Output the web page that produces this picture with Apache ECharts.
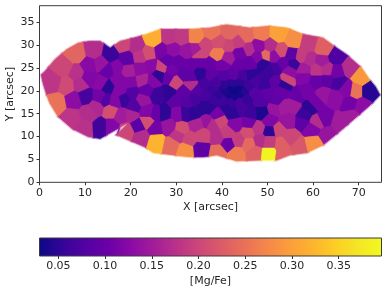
<!DOCTYPE html>
<html><head><meta charset="utf-8">
<style>html,body{margin:0;padding:0;background:#fff}#c{width:387px;height:293px}</style>
<script src="https://cdn.jsdelivr.net/npm/echarts@6/dist/echarts.min.js"></script>
</head><body><div id="c"></div>
<script>
const xTicks=[0,10,20,30,40,50,60,70];
const yTicks=[0,5,10,15,20,25,30,35];
const cbTicks=[0.05,0.10,0.15,0.20,0.25,0.30,0.35];
const vMin=0.0298, vMax=0.3958;
const plasma=['#0d0887','#350498','#5302a3','#6a00a8','#8b0aa5','#a21d9a','#b93289','#cc4778','#db5c68','#e97158','#f48849','#fb9f3a','#fdb42f','#fcce25','#f5e626','#f0f921'];
const outline=[[0.4,23.5],[0.8,21.7],[1.6,19.1],[2.3,17.3],[4.1,14.4],[7.1,11.8],[10.7,10],[13.3,9.6],[14.7,10.4],[19.9,13.3],[16.9,10.4],[19.5,9.3],[23,7.8],[25,6.5],[27,6.3],[31,5.8],[33,5.6],[35.9,5.6],[38.9,6],[43.2,4.7],[48.7,4.9],[52,4.9],[54.9,6],[58.6,6.5],[62.2,8.2],[66.6,11.8],[69.6,14.4],[72.5,16.9],[74.6,19.1],[73.6,20.9],[72.5,22.2],[70.6,25],[67.3,27.9],[65.2,29.3],[62.2,31.5],[57.8,32.3],[54.2,33.7],[50.5,34.1],[46.1,33.7],[41,34.4],[37.4,33.7],[33,33.4],[28.6,33.4],[26.5,33.4],[23.5,32.3],[20.6,31.5],[17.7,30.8],[15.5,29.3],[13.3,30.8],[11,30.8],[8.5,30.4],[6,29],[3.4,26.8],[1.2,24.2]];
const binsWest=[[3,21.7,.18],[5.6,25,.2],[8.2,27.9,.235],[12,28.6,.17],[8.2,23.9,.175],[6,21,.205],[9.1,21.3,.17],[3.9,17.3,.25],[7.6,18,.13],[10.2,18.8,.07],[10.9,25.5,.125],[10.9,22.8,.12],[13.6,26,.14],[7.1,14,.18],[10.9,15.1,.17],[12.5,16.4,.165],[10,11.8,.175],[13.5,12,.065],[13.3,18.8,.11],[13.6,21.7,.125],[15,20.8,.05],[14.6,18,.08],[15.8,15.7,.21],[15.6,27.9,.06],[15.1,24.5,.1],[17,25,.12],[18.5,30,.2],[19.3,27,.09]];
const binsNorth=[[21.3,29.7,.17],[22,27.5,.18],[24,28.2,.21],[25,31.3,.315],[28.6,31.5,.18],[31.2,31.5,.185],[34.5,31.6,.27],[26.8,28.6,.115],[29.3,29,.13],[32.3,28.6,.14],[34.4,29,.15],[24.6,25.3,.125],[27.9,26.4,.1],[22,24.6,.13],[19.5,24.2,.155],[37.8,32.6,.25],[41.8,32.6,.235],[45.4,31.9,.24],[48.7,32.3,.26],[52.4,32.3,.3],[55.7,30.8,.28],[59,30,.19],[62.2,29.1,.23],[50.5,29.7,.17],[49.6,27.6,.24],[48,29.7,.13],[45.8,29,.17],[43.6,30.4,.19],[41.4,29.7,.2],[39.2,30.4,.21],[39.2,28.1,.26],[36.3,30,.2],[35.2,28,.2],[41.4,27.2,.15],[44,28.2,.11],[47.9,27.2,.12],[51.6,27.5,.13],[53.1,28.6,.21],[53.5,26,.1],[55.3,27.9,.09],[55.8,25.7,.06],[57.5,27.5,.19],[49,25.9,.05],[51.6,24.6,.07],[37.4,25.5,.1],[35.2,26,.1],[40.3,25.3,.11],[44,25.6,.1],[33,25.3,.1],[30.4,26,.1],[26.8,25,.2]];
const binsEast=[[59.3,26.8,.17],[61.9,26.4,.15],[65.2,27.2,.075],[68,25,.17],[70.5,22.9,.29],[69.2,19.9,.25],[72.5,19.9,.045],[70.6,16.6,.13],[68,17.2,.11],[65.5,21.7,.07],[67.3,20.2,.12],[65,24.2,.11],[62.9,22.4,.09],[60.8,24.5,.18],[63,24.6,.17],[55,24.2,.13],[57.9,24.6,.15],[57.9,22.8,.12],[60.8,22,.1],[62.2,19.1,.14],[64.8,18.4,.13],[65.9,12.9,.15],[63,10.4,.14],[62.2,14,.11],[60.8,13.3,.17],[59.7,11.5,.12],[57.5,13.3,.09],[59.3,16.4,.05],[57.9,14.7,.06],[60.5,17.5,.11],[56.5,19,.1],[58.5,20,.11],[54.2,22.4,.2],[53.6,21.3,.05],[55.5,16.5,.15],[68.5,14.2,.15]];
const binsSouth=[[15.8,12,.12],[18,14.7,.15],[20.2,14.7,.16],[21.7,12.3,.085],[23.7,13.3,.21],[19,11,.2],[22.4,9.9,.17],[25.5,11.8,.11],[25.7,8.9,.32],[29,8.2,.24],[32.1,7.1,.28],[30.4,10.4,.18],[33,9.6,.2],[31.1,11.8,.21],[28.3,12.3,.14],[27.3,15.2,.05],[25.3,15.1,.1],[35.6,7.4,.09],[39.2,6.7,.245],[43.2,6.4,.26],[47.3,6.7,.23],[50.3,6.4,.39],[53,8.5,.23],[53.5,6,.23],[57.1,7.8,.22],[60,8.5,.28],[54.9,10,.2],[52.4,11.5,.2],[50.3,11.1,.05],[50.3,8.9,.19],[48.2,9.3,.17],[45.8,8.5,.24],[41.4,8.5,.1],[38.9,10,.17],[43.6,9.3,.19],[45.8,11,.21],[46,13,.11],[48,11.8,.18],[36.7,13.3,.14],[34.5,12.6,.16],[38,12.6,.17],[41.2,11,.19],[42.8,12.8,.12],[39.6,13.5,.2],[50.5,13.6,.12],[54.5,13.5,.14],[35.8,10.2,.2]];
const binsCore=[[22.6,22.2,.16],[19.8,21.7,.12],[17.3,22.4,.12],[20.2,19.5,.08],[17.6,19.9,.12],[18.5,18.2,.06],[16.5,17.7,.12],[20.8,16.7,.08],[22.8,18,.14],[23.7,15.5,.12],[26.2,23.3,.05],[28.4,22.9,.1],[25,22,.12],[28.4,19.6,.05],[25.8,19.1,.06],[23.5,20.2,.1],[31.5,23.5,.09],[31.8,20,.09],[29.9,22,.2],[30,17.8,.09],[32.5,17.5,.08],[30.5,15,.12],[33.7,15.1,.05],[31.9,15.1,.06],[35.5,16.5,.05],[37.4,16.5,.05],[40.9,16.4,.05],[42.3,15.2,.05],[39,14.9,.11],[44.5,16.3,.07],[46.5,15.2,.06],[48.7,15.4,.04],[51.6,16.2,.14],[53.5,16.6,.15],
[42.8,19.8,.03],[41.8,20.5,.032],[43.8,20.5,.033],[41.6,19,.035],[42.8,18.6,.035],[44,19.2,.035],[40.7,19.9,.04],[45,19.9,.045],[40.6,21.2,.05],[42.2,21.6,.05],[44,21.8,.05],[46,21,.06],[39.3,19,.05],[40.5,17.8,.06],[42,17.5,.06],[43.8,17.5,.07],[45.5,18.3,.055],[47,19.5,.08],[37.8,20.3,.06],[38.2,18,.06],[38.7,22,.07],[36.3,19.3,.07],[36.3,21.5,.07],[34.6,20,.08],[34.2,18,.07],[40.5,23.4,.08],[42.6,23.5,.09],[44.6,23.3,.07],[47.2,22.3,.07],[37.5,23.5,.09],[35.2,23.8,.05],[33.1,21.4,.17],
[48.5,17.8,.08],[49.6,21.3,.06],[50,19.5,.09],[52,18,.09],[53,19.8,.1],[49.8,23.1,.06],[46.5,23.5,.05],[50.5,24.2,.06],[51.5,22,.09],[46.2,26,.1],[33,23,.09],[29,24.5,.11]];
const bins=[...binsWest,...binsNorth,...binsEast,...binsSouth,...binsCore];

function colorOf(v){
  const t=Math.max(0,Math.min(1,(v-vMin)/(vMax-vMin)))*(plasma.length-1);
  const i=Math.min(plasma.length-2,Math.floor(t)),f=t-i;
  const a=parseInt(plasma[i].slice(1),16),b=parseInt(plasma[i+1].slice(1),16);
  const mix=s=>Math.round(((a>>s)&255)*(1-f)+((b>>s)&255)*f);
  return `rgb(${mix(16)},${mix(8)},${mix(0)})`;
}
function cellOf(k){
  let poly=outline;
  const [px,py]=bins[k];
  bins.forEach((o,j)=>{
    if(j===k||!poly.length)return;
    const nx=o[0]-px,ny=o[1]-py,c=nx*(px+o[0])/2+ny*(py+o[1])/2;
    const side=p=>nx*p[0]+ny*p[1]-c;
    const out=[];
    poly.forEach((p,i)=>{
      const q=poly[(i+1)%poly.length],sp=side(p),sq=side(q);
      if(sp<=0)out.push(p);
      if((sp<0&&sq>0)||(sp>0&&sq<0)){const t=sp/(sp-sq);out.push([p[0]+(q[0]-p[0])*t,p[1]+(q[1]-p[1])*t]);}
    });
    poly=out;
  });
  return poly;
}
const cells=bins.map((b,k)=>cellOf(k));
const binData=bins.map((b,k)=>[b[0],b[1],b[2],k]);
const font='"DejaVu Sans"',ink='#262626',fs=11;
function cellSeries(lineWidth,opacity,z){
  return {type:'custom',xAxisIndex:0,yAxisIndex:0,silent:true,clip:true,z,
    data:binData,encode:{x:0,y:1},
    renderItem(params,api){
      const k=api.value(3),col=colorOf(api.value(2));
      const pts=cells[k].map(p=>api.coord(p));
      return {type:'polygon',shape:{points:pts},style:{fill:col,stroke:col,lineWidth,opacity}};
    }};
}
const chart=echarts.init(document.getElementById('c'),null,{renderer:'canvas'});
chart.setOption({
  animation:false,
  grid:[
    {left:39.5,top:5.7,width:342,height:176.6,outerBoundsMode:'none',containLabel:false,show:true,borderColor:'#3c3c3c',borderWidth:1,backgroundColor:'#fff'},
    {left:39.5,top:238,width:342,height:18,outerBoundsMode:'none',containLabel:false,show:true,borderColor:'#3c3c3c',borderWidth:1,backgroundColor:'transparent',z:5}
  ],
  xAxis:[
    {gridIndex:0,type:'value',min:0,max:75,name:'X [arcsec]',nameLocation:'middle',nameGap:19,nameMoveOverlap:false,
     nameTextStyle:{fontFamily:font,fontSize:fs,color:ink},
     axisLine:{show:false},splitLine:{show:false},
     axisTick:{show:true,length:3,lineStyle:{color:'#333',width:1},customValues:xTicks},
     axisLabel:{fontFamily:font,fontSize:fs,color:ink,margin:5,customValues:xTicks,showMinLabel:true}},
    {gridIndex:1,type:'value',min:vMin,max:vMax,name:'[Mg/Fe]',nameLocation:'middle',nameGap:20,nameMoveOverlap:false,
     nameTextStyle:{fontFamily:font,fontSize:fs,color:ink},
     axisLine:{show:false},splitLine:{show:false},
     axisTick:{show:true,length:3,lineStyle:{color:'#333',width:1},customValues:cbTicks},
     axisLabel:{fontFamily:font,fontSize:fs,color:ink,margin:5,customValues:cbTicks,formatter:v=>v.toFixed(2)}}
  ],
  yAxis:[
    {gridIndex:0,type:'value',min:0,max:38.6,name:'Y [arcsec]',nameLocation:'middle',nameGap:24,nameMoveOverlap:false,
     nameTextStyle:{fontFamily:font,fontSize:fs,color:ink},
     axisLine:{show:false},splitLine:{show:false},
     axisTick:{show:true,length:3,lineStyle:{color:'#333',width:1},customValues:yTicks},
     axisLabel:{fontFamily:font,fontSize:fs,color:ink,margin:5,customValues:yTicks}},
    {gridIndex:1,type:'value',min:0,max:1,show:false}
  ],
  series:[
    cellSeries(3,0.35,2),
    cellSeries(0.8,1,3),
    {type:'custom',xAxisIndex:1,yAxisIndex:1,silent:true,
     data:[[vMin,vMax]],
     encode:{x:[0,1]},
     renderItem(params,api){
       const a=api.coord([api.value(0),0]),b=api.coord([api.value(1),1]);
       return {type:'rect',shape:{x:a[0],y:b[1],width:b[0]-a[0],height:a[1]-b[1]},
         style:{fill:new echarts.graphic.LinearGradient(0,0,1,0,plasma.map((c,i)=>({offset:i/(plasma.length-1),color:c})))}};
     }}
  ]
});
</script></body></html>
